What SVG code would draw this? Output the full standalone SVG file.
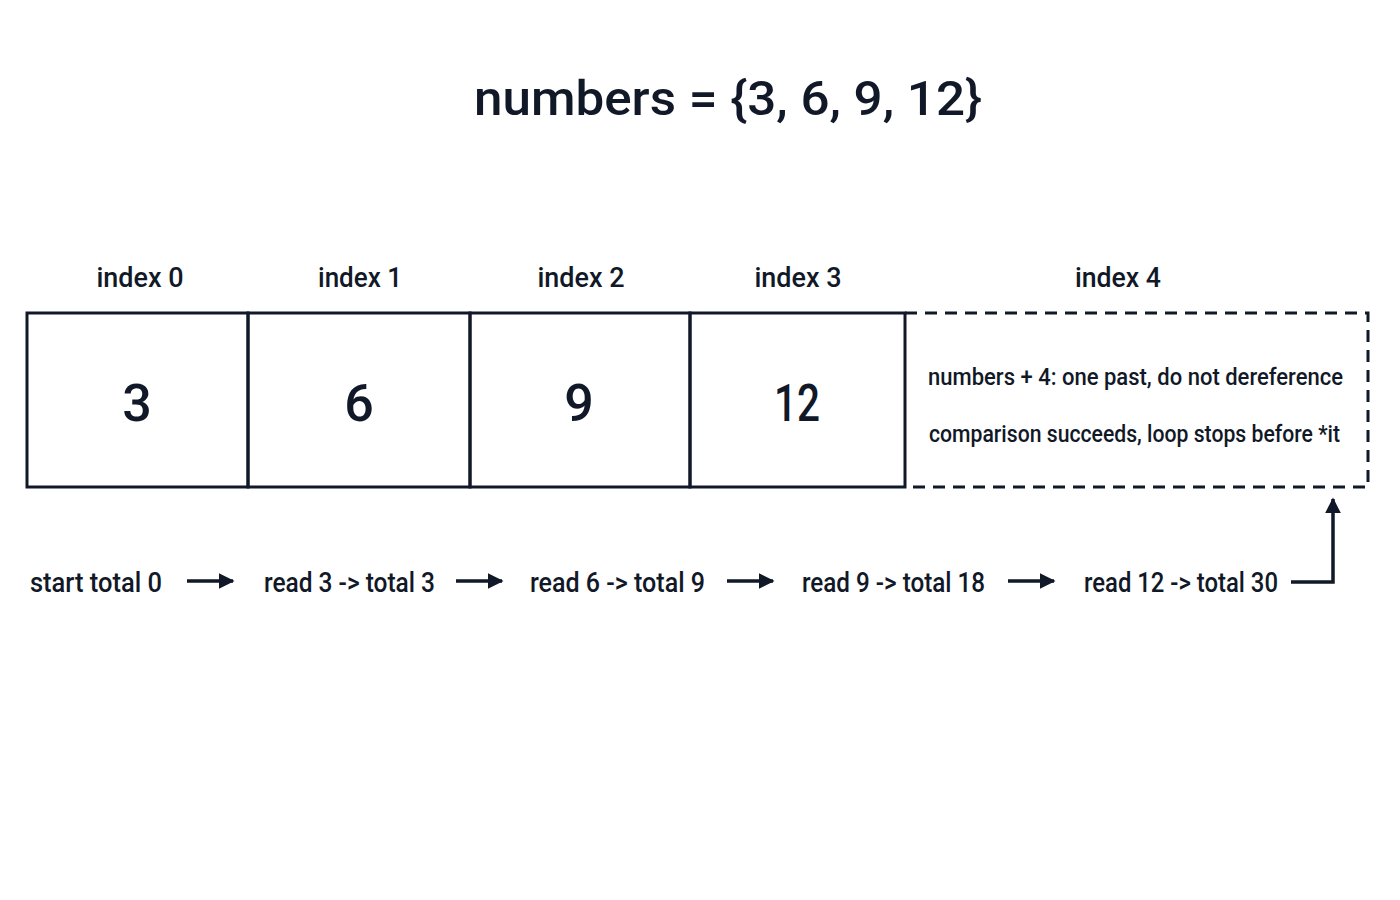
<svg xmlns="http://www.w3.org/2000/svg" width="1400" height="900" viewBox="0 0 1400 900">
<defs>
<style>
text{font-family:Roboto,"Liberation Sans",sans-serif;fill:#111827}
.title{font-size:48px;font-weight:500}
.idx{font-size:28px;font-weight:500;text-anchor:middle}
.val{font-size:52px;font-weight:500;text-anchor:middle}
.note{font-size:23px;font-weight:500}
.step{font-size:28px;font-weight:500}
.cell{fill:none;stroke:#111827;stroke-width:3}
.dash{fill:none;stroke:#111827;stroke-width:3;stroke-dasharray:12 8}
.conn{fill:none;stroke:#111827;stroke-width:3.5}
</style>
<marker id="ah" viewBox="0 0 10 10" refX="9" refY="5" markerWidth="4.5" markerHeight="4.5" orient="auto-start-reverse" markerUnits="strokeWidth">
<path d="M0,0 L10,5 L0,10 z" fill="#111827"/>
</marker>
</defs>
<rect width="1400" height="900" fill="#ffffff"/>
<text class="title" x="728" y="115" text-anchor="middle" textLength="508" lengthAdjust="spacingAndGlyphs">numbers = {3, 6, 9, 12}</text>
<g id="cell0">
<rect class="cell" x="27" y="313" width="221" height="174"/>
<text class="idx" x="140" y="287" textLength="87" lengthAdjust="spacingAndGlyphs">index 0</text>
<text class="val" x="137" y="421">3</text>
</g>
<g id="cell1">
<rect class="cell" x="248" y="313" width="222" height="174"/>
<text class="idx" x="360" y="287" textLength="84" lengthAdjust="spacingAndGlyphs">index 1</text>
<text class="val" x="359" y="421">6</text>
</g>
<g id="cell2">
<rect class="cell" x="470" y="313" width="220" height="174"/>
<text class="idx" x="581" y="287" textLength="87" lengthAdjust="spacingAndGlyphs">index 2</text>
<text class="val" x="579" y="421">9</text>
</g>
<g id="cell3">
<rect class="cell" x="690" y="313" width="215" height="174"/>
<text class="idx" x="798" y="287" textLength="87" lengthAdjust="spacingAndGlyphs">index 3</text>
<text class="val" x="797" y="421" textLength="46" lengthAdjust="spacingAndGlyphs">12</text>
</g>
<g id="cell4">
<path class="dash" d="M905,313 H1368 V487 H905"/>
<text class="idx" x="1118" y="287" textLength="86" lengthAdjust="spacingAndGlyphs">index 4</text>
<text class="note" x="928" y="385" textLength="415" lengthAdjust="spacingAndGlyphs">numbers + 4: one past, do not dereference</text>
<text class="note" x="929" y="442" textLength="411" lengthAdjust="spacingAndGlyphs">comparison succeeds, loop stops before *it</text>
</g>
<g id="step0"><text class="step" x="30" y="592" textLength="132" lengthAdjust="spacingAndGlyphs">start total 0</text></g>
<g id="step1"><text class="step" x="264" y="592" textLength="171" lengthAdjust="spacingAndGlyphs">read 3 -&gt; total 3</text></g>
<g id="step2"><text class="step" x="530" y="592" textLength="175" lengthAdjust="spacingAndGlyphs">read 6 -&gt; total 9</text></g>
<g id="step3"><text class="step" x="802" y="592" textLength="183" lengthAdjust="spacingAndGlyphs">read 9 -&gt; total 18</text></g>
<g id="step4"><text class="step" x="1084" y="592" textLength="194" lengthAdjust="spacingAndGlyphs">read 12 -&gt; total 30</text></g>
<g id="connectors">
<line class="conn" x1="187" y1="581" x2="233" y2="581" marker-end="url(#ah)"/>
<line class="conn" x1="456" y1="581" x2="502" y2="581" marker-end="url(#ah)"/>
<line class="conn" x1="727" y1="581" x2="773" y2="581" marker-end="url(#ah)"/>
<line class="conn" x1="1008" y1="581" x2="1054" y2="581" marker-end="url(#ah)"/>
<path class="conn" d="M1291,582 H1333 V499" marker-end="url(#ah)"/>
</g>
</svg>
